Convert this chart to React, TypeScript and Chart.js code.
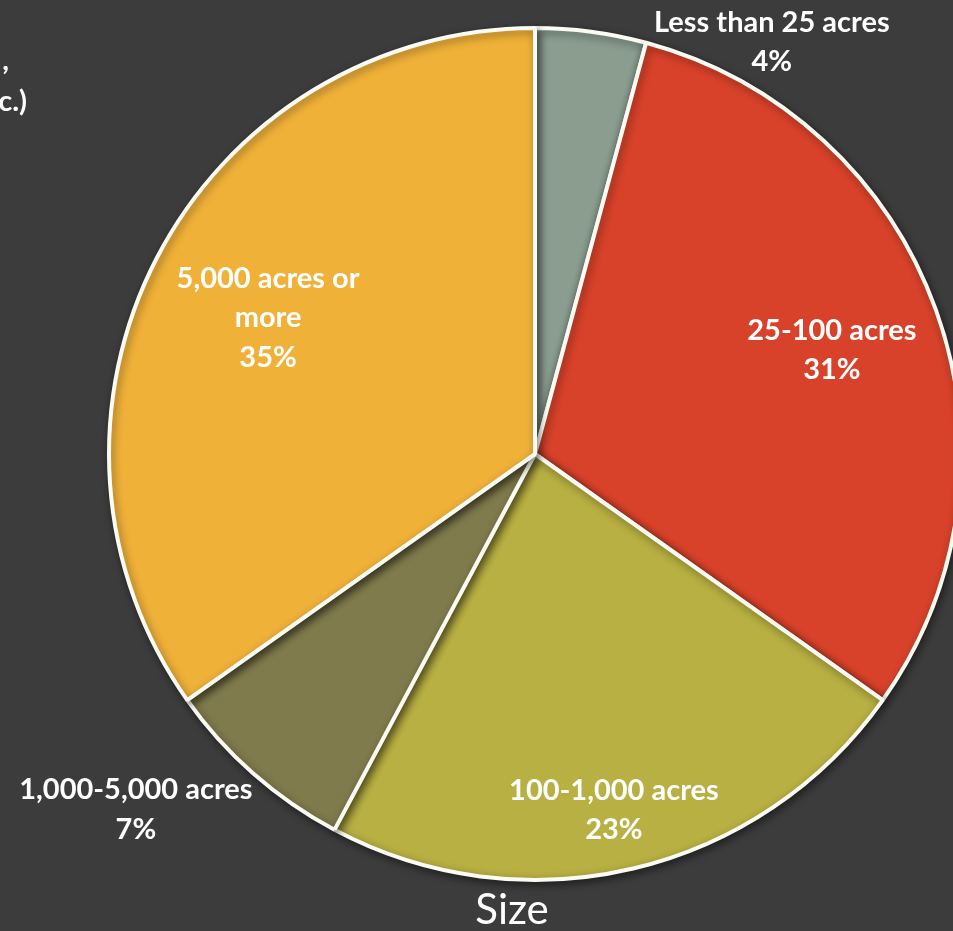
import React, { useEffect, useRef } from "react";
import { Chart, registerables } from "chart.js";

Chart.register(...registerables);

const categories = [
  "Less than 25 acres",
  "25-100 acres",
  "100-1,000 acres",
  "1,000-5,000 acres",
  "5,000 acres or more",
];
const shares = [4.2, 30.6, 23.0, 7.4, 34.8];
const sliceColors = ["#8a9d8f", "#d8422a", "#b8b042", "#807b4c", "#f0b139"];
// label text lines per slice (percent appended from data)
const labelLines = [
  ["Less than 25 acres"],
  ["25-100 acres"],
  ["100-1,000 acres"],
  ["1,000-5,000 acres"],
  ["5,000 acres or", "more"],
];
// label anchor: angle clockwise from 12 o'clock (deg), distance as fraction of radius
const labelAngles = [29.9, 70.7, 167.5, 228.3, 297];
const labelRadii = [1.11, 0.735, 0.852, 1.249, 0.7];
const axisTitle = "Size";
const cutLines = [",", "c.)"];

const BG = "#3c3c3c";
const FONT = "Lato, 'Open Sans', sans-serif";

const labelPlugin = {
  id: "sliceLabels",
  afterDatasetsDraw(chart: any) {
    const ctx = chart.ctx;
    const meta = chart.getDatasetMeta(0);
    const arcs = meta.data;
    if (!arcs.length) return;
    const cx = arcs[0].x;
    const cy = arcs[0].y;
    const R = arcs[0].outerRadius + 2;
    ctx.save();
    ctx.fillStyle = "#ffffff";
    ctx.textAlign = "center";
    ctx.textBaseline = "middle";
    ctx.font = `bold 29px ${FONT}`;
    const lh = 39.5;
    arcs.forEach((arc: any, i: number) => {
      const a = (labelAngles[i] * Math.PI) / 180;
      const r = labelRadii[i] * R;
      const x = cx + Math.sin(a) * r;
      const y = cy - Math.cos(a) * r;
      const lines = [...labelLines[i], `${Math.round(shares[i])}%`];
      const y0 = y - ((lines.length - 1) * lh) / 2;
      lines.forEach((t, k) => ctx.fillText(t, x, y0 + k * lh));
    });
    // axis title
    ctx.font = `42px ${FONT}`;
    ctx.textBaseline = "alphabetic";
    ctx.fillText(axisTitle, 512, 924);
    // partially visible text at the left edge
    ctx.font = `bold 29px ${FONT}`;
    ctx.textAlign = "right";
    ctx.textBaseline = "middle";
    ctx.fillText(cutLines[0], 9, 61);
    ctx.fillText(cutLines[1], 27, 102);
    ctx.restore();
  },
};

const shadowPlugin = {
  id: "pieShadow",
  beforeDatasetsDraw(chart: any) {
    const ctx = chart.ctx;
    ctx.save();
    ctx.shadowColor = "rgba(0,0,0,0.45)";
    ctx.shadowBlur = 8;
    ctx.shadowOffsetX = 2;
    ctx.shadowOffsetY = 3;
  },
  afterDatasetsDraw(chart: any) {
    chart.ctx.restore();
  },
};

export default function App() {
  const ref = useRef<HTMLCanvasElement>(null);
  useEffect(() => {
    if (!ref.current) return;
    const chart = new Chart(ref.current, {
      type: "pie",
      data: {
        labels: categories,
        datasets: [
          {
            data: shares,
            backgroundColor: sliceColors,
            borderColor: "#fbfbf4",
            borderWidth: 4,
          },
        ],
      },
      options: {
        responsive: false,
        animation: false,
        radius: 426,
        layout: { padding: { left: 117, right: 0, top: 0, bottom: 23 } },
        plugins: {
          legend: { display: false },
          tooltip: { enabled: false },
        },
      } as any,
      plugins: [shadowPlugin, labelPlugin],
    });
    return () => chart.destroy();
  }, []);
  return (
    <div
      style={{
        position: "fixed",
        left: 0,
        top: 0,
        width: 953,
        height: 931,
        background: BG,
        overflow: "hidden",
      }}
    >
      <canvas ref={ref} width={953} height={931} style={{ display: "block" }} />
    </div>
  );
}
